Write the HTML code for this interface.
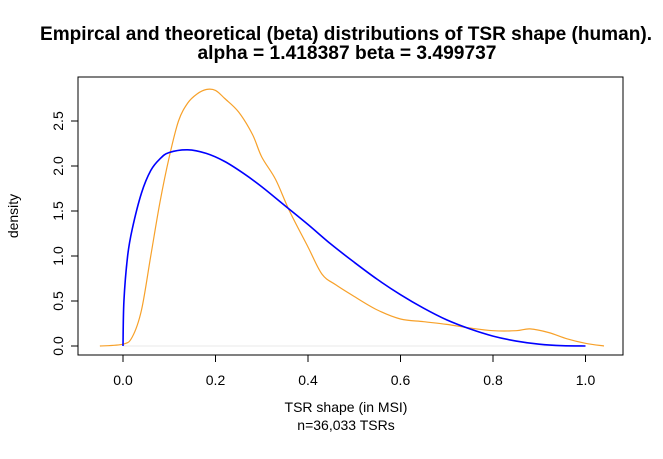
<!DOCTYPE html>
<html><head><meta charset="utf-8"><style>
body{margin:0;background:#fff;}
svg text{font-family:"Liberation Sans",Arial,sans-serif;}
</style></head><body>
<svg id="chart" width="663" height="454" xmlns="http://www.w3.org/2000/svg">
<text x="346" y="40" text-anchor="middle" font-size="19" font-weight="bold" textLength="612" lengthAdjust="spacingAndGlyphs">Empircal and theoretical (beta) distributions of TSR shape (human).</text>
<text x="347" y="59" text-anchor="middle" font-size="19" font-weight="bold" textLength="299" lengthAdjust="spacingAndGlyphs">alpha = 1.418387 beta = 3.499737</text>
<rect x="78" y="77" width="545" height="278" fill="none" stroke="#000"/>
<g id="xaxis"></g>
<g id="yaxis"></g>
<text x="346" y="412" text-anchor="middle" font-size="14">TSR shape (in MSI)</text>
<text x="346" y="430" text-anchor="middle" font-size="14">n=36,033 TSRs</text>
<text transform="translate(18,216) rotate(-90)" text-anchor="middle" font-size="14">density</text>
<g id="marks"></g>
</svg>
<script>
const xTicks=[0,0.2,0.4,0.6,0.8,1.0];
const xTickLabels=["0.0","0.2","0.4","0.6","0.8","1.0"];
const yTicks=[0,0.5,1,1.5,2,2.5];
const yTickLabels=["0.0","0.5","1.0","1.5","2.0","2.5"];
const empX=[-0.05,0,0.02,0.04,0.06,0.08,0.1,0.12,0.14,0.16,0.18,0.2,0.22,0.25,0.28,0.3,0.33,0.36,0.4,0.43,0.46,0.5,0.55,0.6,0.65,0.7,0.75,0.8,0.85,0.88,0.92,0.96,1.0,1.04];
const empY=[0,0.02,0.1,0.4,1.0,1.6,2.1,2.5,2.7,2.8,2.85,2.84,2.75,2.6,2.35,2.1,1.85,1.5,1.1,0.8,0.68,0.55,0.4,0.3,0.27,0.24,0.2,0.17,0.17,0.19,0.15,0.08,0.03,0];
const betaX=[0,0.002,0.01,0.02,0.04,0.06,0.08,0.1,0.14,0.18,0.22,0.26,0.3,0.35,0.4,0.45,0.5,0.55,0.6,0.65,0.7,0.75,0.8,0.85,0.9,0.95,1.0];
const betaY=[0,0.5,1.0,1.3,1.7,1.95,2.08,2.15,2.18,2.14,2.05,1.92,1.77,1.56,1.35,1.13,0.93,0.74,0.57,0.42,0.29,0.19,0.11,0.055,0.02,0.003,0];
const X=v=>123+v*462.5, Y=v=>346-v*90;
const NS="http://www.w3.org/2000/svg";
function mk(t,a,p){const e=document.createElementNS(NS,t);for(const k in a)e.setAttribute(k,a[k]);p.appendChild(e);return e;}
function smooth(xs,ys){
 const p=xs.map((x,i)=>[X(x),Y(ys[i])]);
 let d='M'+p[0][0]+','+p[0][1];
 for(let i=0;i<p.length-1;i++){
  const p0=p[Math.max(0,i-1)],p1=p[i],p2=p[i+1],p3=p[Math.min(p.length-1,i+2)];
  const c1=[p1[0]+(p2[0]-p0[0])/6,p1[1]+(p2[1]-p0[1])/6];
  const c2=[p2[0]-(p3[0]-p1[0])/6,p2[1]-(p3[1]-p1[1])/6];
  d+=` C${c1[0]},${c1[1]} ${c2[0]},${c2[1]} ${p2[0]},${p2[1]}`;
 }
 return d;
}
const xa=document.getElementById('xaxis'), ya=document.getElementById('yaxis'), m=document.getElementById('marks');
mk('line',{x1:X(0),x2:X(1),y1:355,y2:355,stroke:'#000'},xa);
xTicks.forEach((v,i)=>{
 const t=mk('line',{x1:X(v),x2:X(v),y1:355,y2:362,stroke:'#000'},xa);
 
 
 const l=mk('text',{x:X(v),y:385,'text-anchor':'middle','font-size':14},xa);l.textContent=xTickLabels[i];
 
 
});
mk('line',{x1:78,x2:78,y1:Y(0),y2:Y(2.5),stroke:'#000'},ya);
yTicks.forEach((v,i)=>{
 const t=mk('line',{x1:71,x2:78,y1:Y(v),y2:Y(v),stroke:'#000'},ya);
 
 
 const l=mk('text',{x:0,y:0,'text-anchor':'middle','font-size':14,transform:`translate(63,${Y(v)}) rotate(-90)`},ya);l.textContent=yTickLabels[i];
 
 
});
const base=mk('line',{x1:X(0),x2:X(1),y1:Y(0),y2:Y(0),stroke:'#e8e8e8'},m);


const e=mk('path',{d:smooth(empX,empY),fill:'none',stroke:'#f7a12a','stroke-width':1.2},m);


const b=mk('path',{d:smooth(betaX,betaY),fill:'none',stroke:'#0000ff','stroke-width':1.6},m);


</script>
</body></html>
